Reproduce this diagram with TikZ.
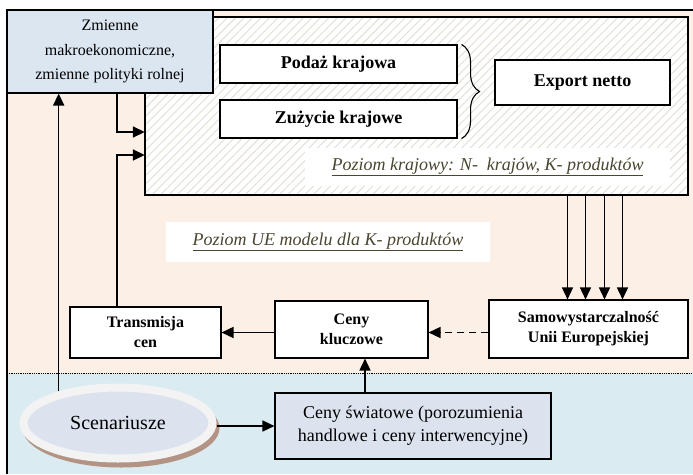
\documentclass[tikz,border=0pt]{standalone}
\usepackage{fontspec}
\setmainfont{Liberation Serif}
\usepackage{tikz}
\usetikzlibrary{arrows.meta,shapes.geometric,patterns.meta,decorations.pathreplacing}

\definecolor{peach}{HTML}{FCF0E6}
\definecolor{seablue}{HTML}{DAEBF2}
\definecolor{boxblue}{HTML}{DCE6F1}
\definecolor{ovalblue}{HTML}{DCE3EF}
\definecolor{ovalrim}{HTML}{F3F3F3}
\definecolor{shadowbrown}{HTML}{B39484}
\definecolor{labelolive}{HTML}{4A4530}
\definecolor{hatch}{HTML}{E2DED4}

\begin{document}
\begin{tikzpicture}[x=1pt, y=-1pt,
  >={Triangle[length=12pt,width=11pt]},
  box/.style={draw, line width=1.1pt, fill=white, inner sep=0pt, align=center,
    font=\bfseries\fontsize{18}{22}\selectfont},
  lowbox/.style={box, font=\bfseries\fontsize{16}{20}\selectfont},
  plainbox/.style={draw, line width=1.1pt, fill=boxblue, inner sep=0pt, align=center,
    font=\fontsize{18}{23}\selectfont},
  level/.style={fill=white, inner sep=0pt, text=labelolive,
    font=\itshape\fontsize{18}{22}\selectfont},
  link/.style={->, line width=1.6pt}]

  \useasboundingbox (0,0) rectangle (693,474);

  % two levels of the model
  \fill[peach] (7,10) rectangle (693,373);
  \fill[seablue] (7,373) rectangle (693,474);
  \draw[densely dotted, line width=0.8pt] (7,373) -- (693,373);
  \draw[line width=1.1pt] (7,474) -- (7,10) -- (693,10);

  \node[minimum width=543pt, minimum height=178pt, inner sep=0pt, fill=white,
    postaction={pattern={Lines[angle=45,distance=6pt,line width=0.9pt]}, pattern color=hatch},
    postaction={draw, line width=1.1pt}] (krajowy) at (416.5,106) {};

  \node[box, minimum width=237pt, minimum height=38pt] (podaz) at (338.5,64) {Podaż krajowa};
  \node[box, minimum width=237pt, minimum height=38pt] (zuzycie) at (338.5,119) {Zużycie krajowe};
  \node[box, minimum width=175pt, minimum height=45pt] (export) at (582.5,82.5) {Export netto};
  \draw[decorate, decoration={brace, amplitude=18pt}, line width=1.1pt]
    ([xshift=4pt]podaz.north east) -- ([xshift=4pt]zuzycie.south east);

  \node[level, minimum width=365pt, minimum height=38pt] (natlab) at (487.5,167)
    {\underline{Poziom krajowy: N-\ \ krajów, K- produktów}};
  \node[level, minimum width=324pt, minimum height=40pt] (eulab) at (328,242)
    {\underline{Poziom UE modelu dla K- produktów}};

  \node[plainbox, font=\fontsize{16}{24.5}\selectfont, minimum width=206pt, minimum height=83pt]
    (zmienne) at (110,51.5) {Zmienne\\makroekonomiczne,\\zmienne polityki rolnej};

  \node[lowbox, minimum width=151pt, minimum height=51pt] (trans) at (145.5,332.5) {Transmisja\\cen};
  \node[lowbox, minimum width=153pt, minimum height=57pt] (klucz) at (351.5,329.5) {Ceny\\kluczowe};
  \node[lowbox, minimum width=199pt, minimum height=58pt] (samo) at (588.5,329)
    {Samowystarczalność\\Unii Europejskiej};
  \node[plainbox, fill=ovalblue, minimum width=276pt, minimum height=66pt] (swiat) at (413,426)
    {Ceny światowe (porozumienia\\handlowe i ceny interwencyjne)};

  \fill[shadowbrown] (121,428) ellipse [x radius=98.5, y radius=39.5];
  \node[ellipse, draw=ovalrim, line width=8pt, fill=ovalblue, minimum width=189pt,
    minimum height=71pt, font=\fontsize{20}{24}\selectfont] (scen) at (118,423) {Scenariusze};

  \draw[link] (scen.152) -- (scen.152 |- zmienne.south);
  \draw[link] ([xshift=7pt]zmienne.south) |- ([yshift=-26pt]krajowy.west);
  \draw[link] ([xshift=-28.5pt]trans.north) |- ([yshift=-49pt]krajowy.west);
  \foreach \dx in {-21,-3,16,34}
    \draw[link] ([xshift=\dx pt]samo.north |- krajowy.south) -- ([xshift=\dx pt]samo.north);
  \draw[link, dash pattern=on 7pt off 5pt] (samo.west |- trans.east) -- (klucz.east |- trans.east);
  \draw[link] (klucz.west |- trans.east) -- (trans.east);
  \draw[link] ([xshift=-48pt]swiat.north) -- ([xshift=-48pt]swiat.north |- klucz.south);
  \draw[link] (scen.east |- swiat.west) -- (swiat.west);

\end{tikzpicture}
\end{document}
